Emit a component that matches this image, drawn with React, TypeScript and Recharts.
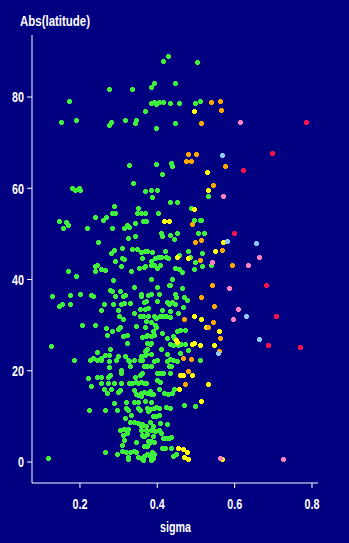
import { ScatterChart, Scatter, XAxis, YAxis } from 'recharts';

// [sigma, abs latitude]
const green: [number, number][] = [
  [0.5045, 87.5], [0.448, 82.9], [0.458, 78.5], [0.499, 78.5], [0.512, 79], [0.448, 74.1],
  [0.398, 65.2], [0.437, 65.4], [0.44, 64.7], [0.414, 63], [0.533, 58.1], [0.386, 59.5], [0.401, 59.5],
  [0.388, 57.9], [0.435, 56.8], [0.453, 56.8], [0.404, 54.4], [0.489, 55.5], [0.497, 52.9], [0.512, 52.9],
  [0.515, 52.9], [0.411, 50], [0.414, 49.4], [0.435, 49.6], [0.453, 50], [0.445, 48.7], [0.507, 50],
  [0.523, 50], [0.541, 43], [0.517, 45.7], [0.481, 46.1], [0.499, 43.7], [0.517, 42.8], [0.497, 42.1],
  [0.466, 41.5], [0.448, 42.4], [0.458, 42.1],
  [0.277, 81.6], [0.336, 81.6], [0.173, 79], [0.153, 74.4], [0.191, 74.8], [0.277, 73.7], [0.282, 74.4],
  [0.318, 74.8], [0.347, 74.8], [0.344, 74.1], [0.37, 76.8], [0.385, 78.5], [0.393, 78.7], [0.398, 78.3],
  [0.406, 78.7], [0.416, 78.7], [0.329, 65], [0.339, 61], [0.181, 59.9], [0.199, 59.9], [0.188, 59.5],
  [0.201, 59.5], [0.429, 88.8], [0.417, 87.7], [0.393, 82.9], [0.385, 82], [0.435, 78.5], [0.398, 73],
  [0.37, 59.2], [0.29, 56], [0.352, 55.5], [0.284, 54.4], [0.292, 54.4], [0.349, 54.4], [0.36, 54.4],
  [0.37, 54.4], [0.241, 53.5], [0.269, 53.5], [0.261, 52.9], [0.147, 52.7], [0.166, 52.4], [0.171, 51.8],
  [0.158, 51.1], [0.365, 52.7], [0.373, 52.7], [0.22, 51.1], [0.285, 51.1], [0.323, 51.8], [0.329, 51.4],
  [0.316, 51.1], [0.344, 52.2], [0.344, 49.4], [0.326, 48.9], [0.248, 48.1], [0.31, 46.8], [0.336, 46.5],
  [0.349, 46.5], [0.29, 46.3], [0.282, 45.7], [0.36, 45.9], [0.37, 46.1], [0.375, 46.1], [0.292, 43.9],
  [0.31, 44.6], [0.316, 44.3], [0.362, 44.6], [0.308, 42.8], [0.241, 42.8], [0.246, 43], [0.241, 41.7],
  [0.256, 42.1], [0.266, 41.9], [0.334, 41.7], [0.354, 42.4], [0.367, 42.6], [0.37, 42.8], [0.171, 41.7],
  [0.191, 40.6], [0.287, 39.7], [0.341, 38.2], [0.279, 37.5], [0.284, 37.3], [0.305, 37.3], [0.36, 36.7],
  [0.36, 36.2], [0.129, 36.2], [0.176, 36.4], [0.202, 36.7], [0.23, 36.4], [0.235, 36.2], [0.292, 36.2],
  [0.313, 36.2], [0.318, 36.4], [0.367, 34.9], [0.373, 35.1], [0.147, 34], [0.155, 34.5], [0.176, 34.5],
  [0.264, 34.5], [0.287, 34.5], [0.308, 34.5], [0.316, 34.7], [0.331, 34.7], [0.357, 33.4], [0.37, 33.4],
  [0.378, 33.6], [0.256, 33.2], [0.3, 33.2], [0.341, 32.5], [0.303, 31.8], [0.357, 31.8], [0.365, 31.8],
  [0.313, 31.2], [0.373, 30.8], [0.207, 29.9], [0.241, 29.9], [0.347, 29.7], [0.269, 29.2], [0.3, 29],
  [0.305, 29.4], [0.285, 28.6], [0.37, 29.4],
  [0.388, 45.9], [0.422, 46.1], [0.396, 44.6], [0.404, 44.8], [0.411, 44.8], [0.424, 44.8], [0.429, 44.6],
  [0.458, 45.2], [0.486, 44.8], [0.385, 43.9], [0.385, 43], [0.393, 43], [0.409, 43], [0.401, 42.4],
  [0.385, 40], [0.44, 40], [0.432, 38.6], [0.435, 38.6], [0.401, 38.2], [0.466, 38], [0.378, 36.4],
  [0.385, 36.7], [0.406, 36.7], [0.448, 36.7], [0.45, 36], [0.471, 36], [0.479, 35.4], [0.401, 35.1],
  [0.427, 34.9], [0.432, 34.5], [0.44, 34.9], [0.448, 34.5], [0.468, 33.8], [0.414, 33.2], [0.435, 32.9],
  [0.455, 32.5], [0.378, 31.8], [0.393, 32], [0.398, 31.4], [0.409, 31.8], [0.417, 32], [0.424, 31.8],
  [0.435, 31.6], [0.385, 30.5], [0.396, 29.9], [0.398, 29.4], [0.39, 28.6], [0.453, 28.6], [0.461, 28.8],
  [0.473, 28.8],
  [0.271, 27.7], [0.313, 27.5], [0.323, 27.7], [0.362, 27.2], [0.373, 27.5], [0.375, 27.7], [0.127, 25.3],
  [0.323, 25.9], [0.375, 25.9], [0.375, 24.6], [0.279, 24.6], [0.246, 24], [0.186, 22.2], [0.228, 22.2],
  [0.235, 22.6], [0.246, 22.2], [0.256, 22.6], [0.256, 22.2], [0.266, 23.3], [0.277, 23.3], [0.277, 22],
  [0.295, 22.2], [0.3, 23.1], [0.318, 23.1], [0.326, 22.2], [0.329, 22], [0.341, 22.2], [0.357, 22.2],
  [0.362, 22.2], [0.36, 23.1], [0.37, 23.3], [0.277, 20.7], [0.331, 20.9], [0.367, 20.9], [0.375, 20.9],
  [0.308, 20], [0.308, 19.4], [0.246, 18.5], [0.222, 18.3], [0.256, 18.5], [0.274, 18.5], [0.279, 18.9],
  [0.256, 17.2], [0.274, 17.2], [0.29, 17.2], [0.308, 17.2], [0.329, 17.2], [0.336, 17.2], [0.344, 18.5],
  [0.357, 18.9], [0.362, 19.4], [0.347, 17.4], [0.352, 17.2], [0.36, 17.4], [0.367, 17.2], [0.23, 16.5],
  [0.264, 15.8], [0.282, 15.8], [0.3, 15.2], [0.305, 15.6], [0.272, 15], [0.341, 15.6], [0.347, 14.8],
  [0.352, 14.5], [0.36, 15], [0.367, 15.2], [0.375, 15], [0.29, 12.8], [0.321, 13], [0.341, 13],
  [0.352, 13], [0.225, 11.2], [0.266, 11.2], [0.297, 11.2], [0.321, 11.7], [0.326, 11.2], [0.352, 11.7],
  [0.357, 11.2], [0.375, 11.7], [0.334, 10.1], [0.318, 9.5], [0.331, 8.6], [0.341, 8.6], [0.352, 8.4],
  [0.362, 8.2], [0.373, 7.7], [0.305, 6.9], [0.316, 7.1], [0.326, 7.1], [0.36, 6.9], [0.362, 5.8],
  [0.367, 5.5], [0.375, 6], [0.313, 5.8], [0.323, 6.2], [0.347, 4.2], [0.316, 4.7], [0.31, 3.6],
  [0.31, 2.3], [0.321, 2], [0.331, 2], [0.341, 2.3], [0.347, 2], [0.266, 2], [0.297, 1.6], [0.326, 0.9],
  [0.326, 0.5], [0.352, 0.9], [0.36, 0.7], [0.367, 1.2], [0.375, 1.6], [0.365, 0.3], [0.119, 0.7],
  [0.38, 4.1], [0.375, 3.4], [0.37, 24.2], [0.372, 23.5],
  [0.385, 27.5], [0.393, 27.7], [0.414, 28.1], [0.427, 27], [0.443, 27.5], [0.445, 27], [0.385, 25.9],
  [0.383, 25.7], [0.411, 24.6], [0.435, 25.7], [0.443, 25.5], [0.455, 25.5], [0.463, 25.7], [0.473, 25.7],
  [0.461, 23.7], [0.481, 24.4], [0.385, 23.5], [0.393, 22], [0.401, 22.2], [0.427, 23.5], [0.427, 22],
  [0.435, 22.4], [0.443, 22.2], [0.453, 22], [0.512, 22.2], [0.432, 20.9], [0.437, 20.9], [0.385, 20.9],
  [0.401, 19.4], [0.409, 19.4], [0.417, 19.4], [0.435, 19.4], [0.401, 17.8], [0.409, 17.4], [0.445, 15.8],
  [0.44, 15], [0.429, 14.8], [0.419, 15], [0.39, 14.8], [0.383, 15.4], [0.385, 14.8], [0.406, 15.8],
  [0.385, 13], [0.393, 11.7], [0.383, 11.5], [0.398, 11.9], [0.406, 11.7], [0.424, 11.9], [0.435, 11.7],
  [0.471, 12.3], [0.499, 12.1], [0.406, 10.1], [0.398, 9.9], [0.427, 8.2], [0.409, 8.4], [0.383, 8.6],
  [0.39, 7.7], [0.385, 6.9], [0.396, 6.6], [0.406, 6.9], [0.411, 6.2], [0.417, 5.1], [0.424, 5.1],
  [0.432, 5.1], [0.437, 5.3], [0.39, 5.5], [0.385, 4.6], [0.393, 4.2], [0.414, 2.9], [0.422, 2.9],
  [0.437, 2.9], [0.443, 1.2], [0.45, 1.6], [0.388, 2], [0.393, 1.6], [0.383, 1.2], [0.39, 0.7],
  [0.385, 0.3], [0.372, 17.2], [0.36, 14.3], [0.378, 11], [0.37, 13.2], [0.39, 9.9], [0.36, 7.7],
  [0.372, 7], [0.365, 5.5], [0.378, 4.4], [0.367, 3.4],
];

const yellow: [number, number][] = [
  [0.497, 76.8], [0.53, 63.4], [0.533, 59.5], [0.497, 55.3], [0.419, 52.7], [0.432, 52.7], [0.572, 48.1],
  [0.551, 46.1], [0.481, 44.6], [0.453, 44.8], [0.497, 31.8], [0.515, 31.2], [0.528, 29.4], [0.561, 28.6],
  [0.549, 25.5], [0.512, 25.5], [0.492, 25.7], [0.497, 25.9], [0.461, 18.9], [0.468, 18.9], [0.492, 18.9],
  [0.533, 17.1], [0.458, 15.8], [0.515, 13.2], [0.45, 26.6], [0.453, 26.1], [0.455, 2.9], [0.468, 2.7],
  [0.479, 2.0], [0.471, 0.9], [0.481, 0.5], [0.569, 0.5],
];

const orange: [number, number][] = [
  [0.541, 78.8], [0.564, 79], [0.567, 77], [0.515, 74.1], [0.481, 67.4], [0.502, 67.4], [0.476, 65.8],
  [0.489, 65.8], [0.577, 64.7], [0.546, 60.6], [0.492, 52], [0.499, 48.1], [0.515, 48.5], [0.569, 46.3],
  [0.594, 43], [0.512, 44.1], [0.543, 38.6], [0.515, 36], [0.549, 34], [0.471, 31.3], [0.546, 30.5],
  [0.533, 29.4], [0.564, 27], [0.561, 24.2], [0.489, 22.4], [0.468, 22.6], [0.481, 19.8], [0.473, 16.9],
];

const pink: [number, number][] = [
  [0.616, 74.4], [0.572, 58.1], [0.665, 44.8], [0.543, 43.7], [0.636, 43], [0.587, 38], [0.611, 33.4],
  [0.598, 31.2], [0.564, 0.7], [0.727, 0.66],
];

const red: [number, number][] = [
  [0.787, 74.4], [0.699, 67.6], [0.624, 63.8], [0.6, 50], [0.683, 38.6], [0.709, 31.8], [0.688, 25.5],
  [0.771, 25],
];

const lightBlue: [number, number][] = [
  [0.569, 67.1], [0.582, 48.3], [0.657, 47.8], [0.631, 31.8], [0.665, 26.8], [0.559, 23.7],
];

const xTicks = [0.2, 0.4, 0.6, 0.8];
const yTicks = [0, 20, 40, 60, 80];

const groups = [
  { key: 'green', color: '#3cf03c', pts: green },
  { key: 'yellow', color: '#ffff00', pts: yellow },
  { key: 'orange', color: '#ffa500', pts: orange },
  { key: 'pink', color: '#ff80c0', pts: pink },
  { key: 'red', color: '#ff1048', pts: red },
  { key: 'lightBlue', color: '#8cc8ff', pts: lightBlue },
];

const BG = '#000080';
const FONT = "'Liberation Sans', Arial, sans-serif";
const SQUEEZE = 0.72; // original uses a narrow bold face

// small 5px blocky dot like the original
function Dot(props: any) {
  const { cx, cy, fill } = props;
  if (cx == null || cy == null) return null;
  const x = Math.floor(cx);
  const y = Math.floor(cy);
  return <path d={`M${x - 1} ${y - 2}h3v1h1v3h-1v1h-3v-1h-1v-3h1z`} fill={fill} />;
}

function NarrowTick(props: any) {
  const { x, y, payload, textAnchor, dy, fmt } = props;
  const label = fmt ? fmt(payload.value) : String(payload.value);
  return (
    <g transform={`translate(${x},${y}) scale(${SQUEEZE},1)`}>
      <text x={0} y={0} dy={dy} textAnchor={textAnchor} fill="#fff"
        fontSize={15} fontWeight="bold" fontFamily={FONT}>
        {label}
      </text>
    </g>
  );
}

export default function App() {
  return (
    <div style={{ position: 'absolute', left: 0, top: 0, width: 349, height: 543, background: BG }}>
      <ScatterChart width={349} height={543} margin={{ top: 35, right: 31, bottom: 0, left: 0 }}>
        <XAxis
          type="number" dataKey="x" domain={[0.076, 0.8155]} ticks={xTicks}
          allowDataOverflow height={60} stroke="#fff" tickSize={5} tickMargin={10}
          tick={<NarrowTick dy="0.71em" fmt={(v: number) => v.toFixed(1)} />}
        />
        <YAxis
          type="number" dataKey="y" domain={[-4.6, 93.6]} ticks={yTicks}
          allowDataOverflow width={32} stroke="#fff" tickSize={5} tickMargin={3}
          tick={<NarrowTick dy="0.355em" />}
        />
        {groups.map(g => (
          <Scatter
            key={g.key}
            data={g.pts.map(([x, y]) => ({ x, y }))}
            fill={g.color}
            shape={<Dot />}
            isAnimationActive={false}
          />
        ))}
      </ScatterChart>
      <svg width={349} height={543} style={{ position: 'absolute', left: 0, top: 0, pointerEvents: 'none' }}>
        <text x={20} y={26} fill="#fff" fontSize={15} fontWeight="bold" fontFamily={FONT}
          textLength={70} lengthAdjust="spacingAndGlyphs">Abs(latitude)</text>
        <text x={160} y={532} fill="#fff" fontSize={15} fontWeight="bold" fontFamily={FONT}
          textLength={31} lengthAdjust="spacingAndGlyphs">sigma</text>
      </svg>
    </div>
  );
}
